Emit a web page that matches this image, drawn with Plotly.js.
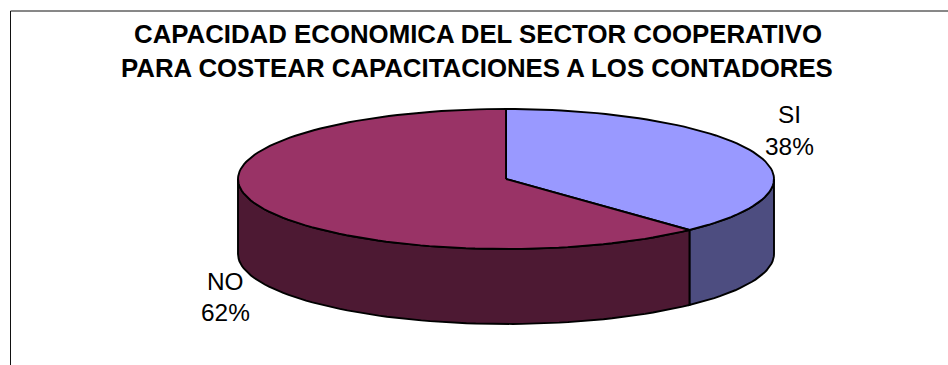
<!DOCTYPE html>
<html>
<head>
<meta charset="utf-8">
<script src="https://cdn.plot.ly/plotly-3.0.1.min.js"></script>
<style>html,body{margin:0;padding:0;background:#fff}#chart{width:948px;height:365px}</style>
</head>
<body>
<div id="chart"></div>
<script>
// Survey shares, clockwise from twelve o'clock
const categories = ['SI', 'NO'];
const shares = [38, 62];
const topColors = ['#9999FF', '#993366'];
const wallColors = ['#4D4D80', '#4D1933'];
const titleLines = [
  'CAPACIDAD ECONOMICA DEL SECTOR COOPERATIVO',
  'PARA COSTEAR CAPACITACIONES A LOS CONTADORES'
];

// Disc geometry on the page, in pixels
const W = 948, H = 365;
const CX = 506, CY = 179, RX = 268, RY = 70, DEPTH = 75;

const FONT = 'Liberation Sans, Arial, sans-serif';
const INK = '#000000';
const TITLE_SIZE = 25.8, LABEL_SIZE = 24.4, OUTLINE = 1.9;

// Data space: one unit equals the disc radius on each axis
const px = deg => Math.sin(deg * Math.PI / 180);
const py = deg => Math.cos(deg * Math.PI / 180);

function arc(from, to, dy) {
  const out = {x: [], y: []};
  const steps = Math.max(2, Math.ceil(Math.abs(to - from) / 2));
  for (let i = 0; i <= steps; i++) {
    const a = from + (to - from) * i / steps;
    out.x.push(px(a));
    out.y.push(py(a) - dy);
  }
  return out;
}

const total = shares.reduce((a, b) => a + b, 0);
const depth = DEPTH / RY;
const wallTraces = [], topTraces = [];
let start = 0;
shares.forEach((v, i) => {
  const end = start + v / total * 360;
  // Only the part of the rim on the near half of the disc shows a wall
  const a = Math.max(start, 90), b = Math.min(end, 270);
  if (b > a) {
    const upper = arc(a, b, 0), lower = arc(b, a, depth);
    wallTraces.push({
      x: upper.x.concat(lower.x, [upper.x[0]]),
      y: upper.y.concat(lower.y, [upper.y[0]]),
      mode: 'lines', fill: 'toself', fillcolor: wallColors[i],
      line: {color: INK, width: OUTLINE}, hoverinfo: 'skip', showlegend: false
    });
  }
  const rim = arc(start, end, 0);
  topTraces.push({
    x: [0].concat(rim.x, [0]),
    y: [0].concat(rim.y, [0]),
    mode: 'lines', fill: 'toself', fillcolor: topColors[i],
    line: {color: INK, width: OUTLINE}, hoverinfo: 'skip', showlegend: false
  });
  start = end;
});

// Slice labels: name above, percentage below
const labelSpots = [{x: 789, y1: 115, y2: 146}, {x: 225, y1: 281, y2: 312}];
const textAt = (text, x, y, size, bold) => ({
  text: bold ? '<b>' + text + '</b>' : text,
  xref: 'paper', yref: 'paper', x: x / W, y: 1 - y / H,
  xanchor: 'center', yanchor: 'middle', showarrow: false,
  font: {family: FONT, size: size, color: INK}
});
const annotations = [];
categories.forEach((c, i) => {
  annotations.push(textAt(c, labelSpots[i].x, labelSpots[i].y1, LABEL_SIZE));
  annotations.push(textAt(Math.round(shares[i] / total * 100) + '%', labelSpots[i].x, labelSpots[i].y2, LABEL_SIZE));
});
annotations.push(textAt(titleLines[1], 477, 68, TITLE_SIZE, true));

const layout = {
  width: W, height: H,
  margin: {l: 0, r: 0, t: 0, b: 0},
  paper_bgcolor: '#fff', plot_bgcolor: '#fff',
  title: {
    text: '<b>' + titleLines[0] + '</b>',
    font: {family: FONT, size: TITLE_SIZE, color: INK},
    x: 478 / W, xanchor: 'center', xref: 'paper',
    y: 1 - 34 / H, yanchor: 'middle', yref: 'paper'
  },
  xaxis: {range: [-CX / RX, (W - CX) / RX], visible: false, fixedrange: true},
  yaxis: {range: [(CY - H) / RY, CY / RY], visible: false, fixedrange: true},
  showlegend: false,
  annotations: annotations,
  // Chart frame: only the top and left edges fall inside the page
  shapes: [
    {type: 'line', xref: 'paper', yref: 'paper', x0: 10.5 / W, x1: 1, y0: 1 - 11 / H, y1: 1 - 11 / H, line: {color: '#111', width: 1}},
    {type: 'line', xref: 'paper', yref: 'paper', x0: 10.5 / W, x1: 10.5 / W, y0: 0, y1: 1 - 11 / H, line: {color: '#111', width: 1}}
  ]
};

Plotly.newPlot('chart', wallTraces.concat(topTraces), layout, {displayModeBar: false, staticPlot: true});
</script>
</body>
</html>
